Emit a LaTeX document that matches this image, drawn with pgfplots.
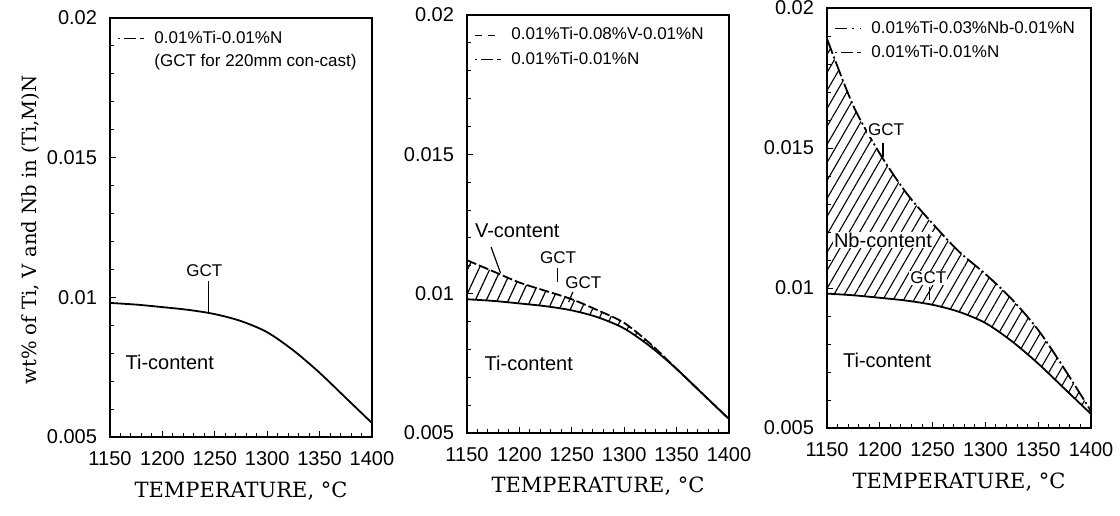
\documentclass[border=0pt]{standalone}
\usepackage{fontspec}
\setmainfont{Liberation Sans}
\newfontfamily\labelfont{DejaVu Serif}
\usepackage{pgfplots}
\pgfplotsset{compat=1.18}
\usepackage{pgfplotstable}
\usetikzlibrary{patterns.meta}

\pgfplotstableread{
T y
1150 0.0098
1175 0.00974
1200 0.00965
1225 0.00955
1250 0.0094
1275 0.00915
1300 0.00875
1325 0.0081
1350 0.0073
1375 0.0064
1400 0.0055
}\tiTable

\pgfplotstableread{
T y
1150 0.0112
1175 0.0108
1200 0.0104
1225 0.0101
1250 0.0098
1275 0.0094
1300 0.00895
1325 0.0082
1350 0.0073
1375 0.0064
1400 0.0055
}\vTable

\pgfplotstableread{
T y
1150 0.0189
1175 0.0165
1200 0.0148
1225 0.0134
1250 0.0123
1275 0.0113
1300 0.0105
1325 0.0096
1350 0.0085
1375 0.0071
1400 0.0056
}\nbTable

% hatched regions: upper curve forward, Ti curve backward
\pgfplotstableread{
T y
1150 0.0112
1175 0.0108
1200 0.0104
1225 0.0101
1250 0.0098
1275 0.0094
1300 0.00895
1325 0.0082
1350 0.0073
1375 0.0064
1400 0.0055
1375 0.0064
1350 0.0073
1325 0.0081
1300 0.00875
1275 0.00915
1250 0.0094
1225 0.00955
1200 0.00965
1175 0.00974
1150 0.0098
}\vRegion

\pgfplotstableread{
T y
1150 0.0189
1175 0.0165
1200 0.0148
1225 0.0134
1250 0.0123
1275 0.0113
1300 0.0105
1325 0.0096
1350 0.0085
1375 0.0071
1400 0.0056
1400 0.0055
1375 0.0064
1350 0.0073
1325 0.0081
1300 0.00875
1275 0.00915
1250 0.0094
1225 0.00955
1200 0.00965
1175 0.00974
1150 0.0098
}\nbRegion

\tikzset{
  tidash/.style={dash pattern=on 1pt off 2pt on 6pt off 2pt on 1pt off 0pt},
  vdash/.style={dash pattern=on 3.5pt off 3pt},
  nbdash/.style={dash pattern=on 6pt off 2.5pt on 1pt off 3pt},
}

\pgfplotsset{
  panel/.style={
    scale only axis,
    xmin=1150, xmax=1400, ymin=0.005, ymax=0.02,
    xtick={1150,1200,1250,1300,1350,1400},
    xticklabels={1150,1200,1250,1300,1350,1400},
    ytick={0.005,0.01,0.015,0.02},
    yticklabels={0.005,0.01,0.015,0.02},
    scaled y ticks=false, scaled x ticks=false,
    minor x tick num=4, minor y tick num=4,
    tick pos=left,
    major tick length=3pt, minor tick length=1.8pt,
    tick style={black, line width=0.5pt},
    axis line style={line width=0.8pt},
    tick label style={font=\fontsize{10}{11}\selectfont},
    xticklabel style={yshift=-3.5pt},
    yticklabel style={xshift=-3pt},
    /pgf/number format/assume math mode=true,
    xlabel={TEMPERATURE, \textdegree C},
    xlabel style={at={(axis description cs:0.5,-0.128)}, anchor=center,
      font=\labelfont\fontsize{10.5}{12}\selectfont},
    legend style={draw=none, fill=none, at={(0.02,0.985)}, anchor=north west,
      font=\fontsize{8.5}{9}\selectfont, row sep=0.5pt, inner sep=1pt},
    legend cell align=left,
    legend image code/.code={\draw[#1, line width=0.8pt, line cap=butt] (0cm,0cm) -- (0.45cm,0cm);
      \path (0.45cm+3pt,0cm);},
  },
  curve/.style={black, line width=0.9pt, forget plot, smooth},
}

\begin{document}
\begin{tikzpicture}
\useasboundingbox (0,0) rectangle (560pt,-257.5pt);

% ---------- Panel 1 ----------
\begin{axis}[panel, at={(55pt,-218.5pt)}, anchor=south west,
  width=131pt, height=209.5pt,
  ylabel={wt\% of Ti, V and Nb in (Ti,M)N},
  ylabel style={at={(axis description cs:-0.305,0.494)}, anchor=center,
    font=\labelfont\fontsize{9.8}{11}\selectfont},
  legend style={row sep=0pt},
]
\addplot[curve] table[x=T, y=y] {\tiTable};
\addlegendimage{black, tidash}
\addlegendimage{empty legend}
\legend{0.01\%Ti-0.01\%N, (GCT for 220mm con-cast)}
\node[font=\fontsize{8.5}{9}\selectfont] at (axis cs:1240,0.01095) {GCT};
\draw[line width=0.6pt] (axis cs:1244,0.0106) -- (axis cs:1244,0.00944);
\node[font=\fontsize{10}{11}\selectfont] at (axis cs:1207,0.00768) {Ti-content};
\end{axis}

% ---------- Panel 2 ----------
\begin{axis}[panel, at={(233.5pt,-216.5pt)}, anchor=south west,
  width=131pt, height=209pt,
]
\addplot[draw=none, forget plot, smooth, pattern={Lines[angle=65, distance=5pt, line width=0.6pt]}]
  table[x=T, y=y] {\vRegion} -- cycle;
\addplot[curve] table[x=T, y=y] {\tiTable};
\addplot[curve, dash pattern=on 5pt off 1.5pt] table[x=T, y=y] {\vTable};
\addlegendimage{black, vdash}
\addlegendimage{black, tidash}
\legend{0.01\%Ti-0.08\%V-0.01\%N, 0.01\%Ti-0.01\%N}
\node[font=\fontsize{10}{11}\selectfont] at (axis cs:1198,0.01226) {V-content};
\draw[line width=0.6pt] (axis cs:1173,0.01167) -- (axis cs:1182,0.01074);
\node[font=\fontsize{8.5}{9}\selectfont] at (axis cs:1237,0.01128) {GCT};
\draw[line width=0.6pt] (axis cs:1236,0.01092) -- (axis cs:1236,0.01042);
\node[font=\fontsize{8.5}{9}\selectfont] at (axis cs:1261,0.01038) {GCT};
\draw[line width=0.6pt] (axis cs:1251,0.01006) -- (axis cs:1247,0.0097);
\node[font=\fontsize{10}{11}\selectfont] at (axis cs:1209,0.00751) {Ti-content};
\end{axis}

% ---------- Panel 3 ----------
\begin{axis}[panel, at={(413.5pt,-214pt)}, anchor=south west,
  width=132pt, height=210pt,
]
\addplot[draw=none, forget plot, smooth, pattern={Lines[angle=60, distance=4.5pt, line width=0.55pt]}]
  table[x=T, y=y] {\nbRegion} -- cycle;
\addplot[curve] table[x=T, y=y] {\tiTable};
\addplot[curve, dash pattern=on 8pt off 1.5pt on 1pt off 1.5pt] table[x=T, y=y] {\nbTable};
\addlegendimage{black, nbdash}
\addlegendimage{black, tidash}
\legend{0.01\%Ti-0.03\%Nb-0.01\%N, 0.01\%Ti-0.01\%N}
\node[font=\fontsize{8.5}{9}\selectfont, fill=white, inner sep=0.5pt] at (axis cs:1206,0.01564) {GCT};
\draw[line width=0.6pt] (axis cs:1203,0.01518) -- (axis cs:1203,0.01468);
\node[font=\fontsize{10}{11}\selectfont, fill=white, inner sep=0.5pt] at (axis cs:1203,0.01171) {Nb-content};
\node[font=\fontsize{8.5}{9}\selectfont, fill=white, inner sep=0.5pt] at (axis cs:1246,0.01036) {GCT};
\draw[line width=0.6pt] (axis cs:1247,0.01004) -- (axis cs:1247,0.00957);
\node[font=\fontsize{10}{11}\selectfont] at (axis cs:1207,0.00743) {Ti-content};
\end{axis}
\end{tikzpicture}
\end{document}
